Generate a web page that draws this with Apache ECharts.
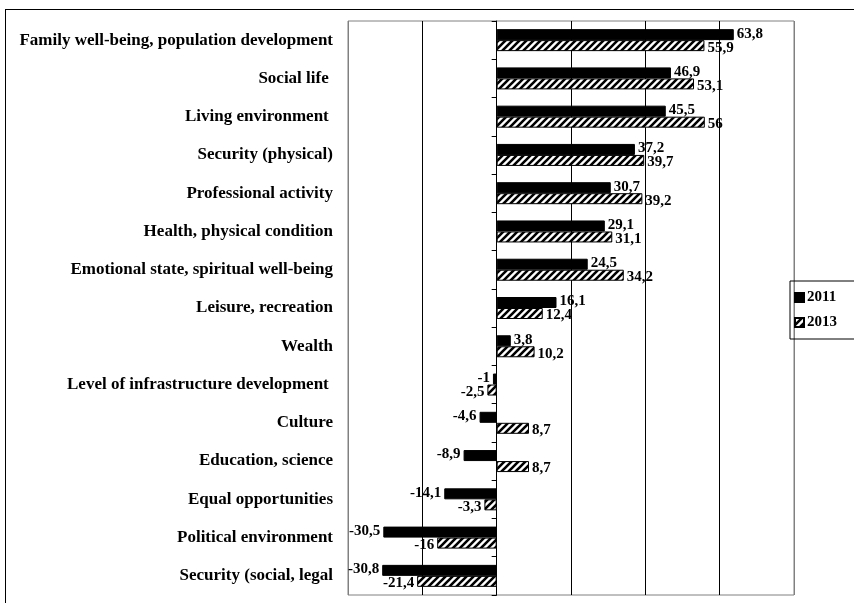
<!DOCTYPE html>
<html>
<head>
<meta charset="utf-8">
<script src="https://cdn.jsdelivr.net/npm/echarts@6/dist/echarts.min.js"></script>
<style>
html,body{margin:0;padding:0;background:#fff;}
#frame{position:absolute;left:5px;top:9px;width:860px;height:620px;border:1px solid #000;box-sizing:border-box;}
#chart{position:absolute;left:0;top:0;width:854px;height:603px;}
</style>
</head>
<body>
<div id="frame"></div>
<div id="chart"></div>
<script>
var categories = [
  'Family well-being, population development',
  'Social life ',
  'Living environment ',
  'Security (physical)',
  'Professional activity',
  'Health, physical condition',
  'Emotional state, spiritual well-being',
  'Leisure, recreation',
  'Wealth',
  'Level of infrastructure development ',
  'Culture',
  'Education, science',
  'Equal opportunities',
  'Political environment',
  'Security (social, legal'
];
var values2011 = [63.8, 46.9, 45.5, 37.2, 30.7, 29.1, 24.5, 16.1, 3.8, -1, -4.6, -8.9, -14.1, -30.5, -30.8];
var values2013 = [55.9, 53.1, 56, 39.7, 39.2, 31.1, 34.2, 12.4, 10.2, -2.5, 8.7, 8.7, -3.3, -16, -21.4];
var seriesNames = ['2011', '2013'];

function makeHatch() {
  var c = document.createElement('canvas');
  c.width = 7; c.height = 7;
  var ctx = c.getContext('2d');
  ctx.fillStyle = '#fff';
  ctx.fillRect(0, 0, 7, 7);
  ctx.strokeStyle = '#000';
  ctx.lineWidth = 2.6;
  ctx.beginPath();
  ctx.moveTo(-1, 8); ctx.lineTo(8, -1);
  ctx.moveTo(-4.5, 4.5); ctx.lineTo(4.5, -4.5);
  ctx.moveTo(2.5, 11.5); ctx.lineTo(11.5, 2.5);
  ctx.stroke();
  return c;
}
var hatch = { image: makeHatch(), repeat: 'repeat' };

function fmt(v) { return String(v).replace('.', ','); }
var serif = '"Liberation Serif", "Times New Roman", serif';
var labelFont = { fontFamily: serif, fontWeight: 'bold', fontSize: 15, color: '#000' };

function buildData(vals, dy) {
  return vals.map(function (v) {
    return {
      value: v,
      label: Object.assign({
        show: true,
        position: v >= 0 ? 'right' : 'left',
        distance: 3,
        offset: [0, dy],
        formatter: function (p) { return fmt(p.value); }
      }, labelFont)
    };
  });
}

var chart = echarts.init(document.getElementById('chart'), null, { renderer: 'canvas' });
chart.setOption({
  animation: false,
  backgroundColor: 'transparent',
  grid: { left: 348, top: 21, right: 60, bottom: 8, show: true, borderColor: '#808080', borderWidth: 1, containLabel: false },
  legend: {
    orient: 'vertical',
    left: 790, top: 281,
    borderColor: '#000', borderWidth: 1,
    padding: [9, 20, 9, 4],
    itemGap: 10,
    itemWidth: 9, itemHeight: 9,
    icon: 'rect',
    textStyle: { fontFamily: serif, fontWeight: 'bold', fontSize: 15, color: '#000', padding: [0, 0, 0, -2] },
    data: seriesNames
  },
  xAxis: {
    type: 'value', min: -40, max: 80, interval: 20,
    axisLabel: { show: false }, axisTick: { show: false }, axisLine: { show: false },
    splitLine: { show: true, lineStyle: { color: ['#808080', '#000', '#000', '#000', '#000', '#000', '#808080'], width: 1 } }
  },
  yAxis: [
    {
      type: 'category', data: categories, inverse: true,
      axisLine: { show: false, onZero: false }, axisTick: { show: false },
      axisLabel: { margin: 15, fontFamily: serif, fontWeight: 'bold', fontSize: 17, color: '#000' },
      splitLine: { show: false }
    },
    {
      type: 'category', data: categories, inverse: true, position: 'left',
      axisLine: { show: true, onZero: true, lineStyle: { color: '#000', width: 1 } },
      axisTick: { show: true, length: 5, lineStyle: { color: '#000' } },
      axisLabel: { show: false }, splitLine: { show: false }
    }
  ],
  series: [
    {
      name: seriesNames[0], type: 'bar', yAxisIndex: 0,
      barWidth: 11, barGap: '0%',
      itemStyle: { color: '#000', borderColor: '#000', borderWidth: 1 },
      data: buildData(values2011, -1)
    },
    {
      name: seriesNames[1], type: 'bar', yAxisIndex: 0,
      barWidth: 11, barGap: '0%',
      itemStyle: { color: hatch, borderColor: '#000', borderWidth: 1 },
      data: buildData(values2013, 2)
    }
  ]
});
</script>
</body>
</html>
